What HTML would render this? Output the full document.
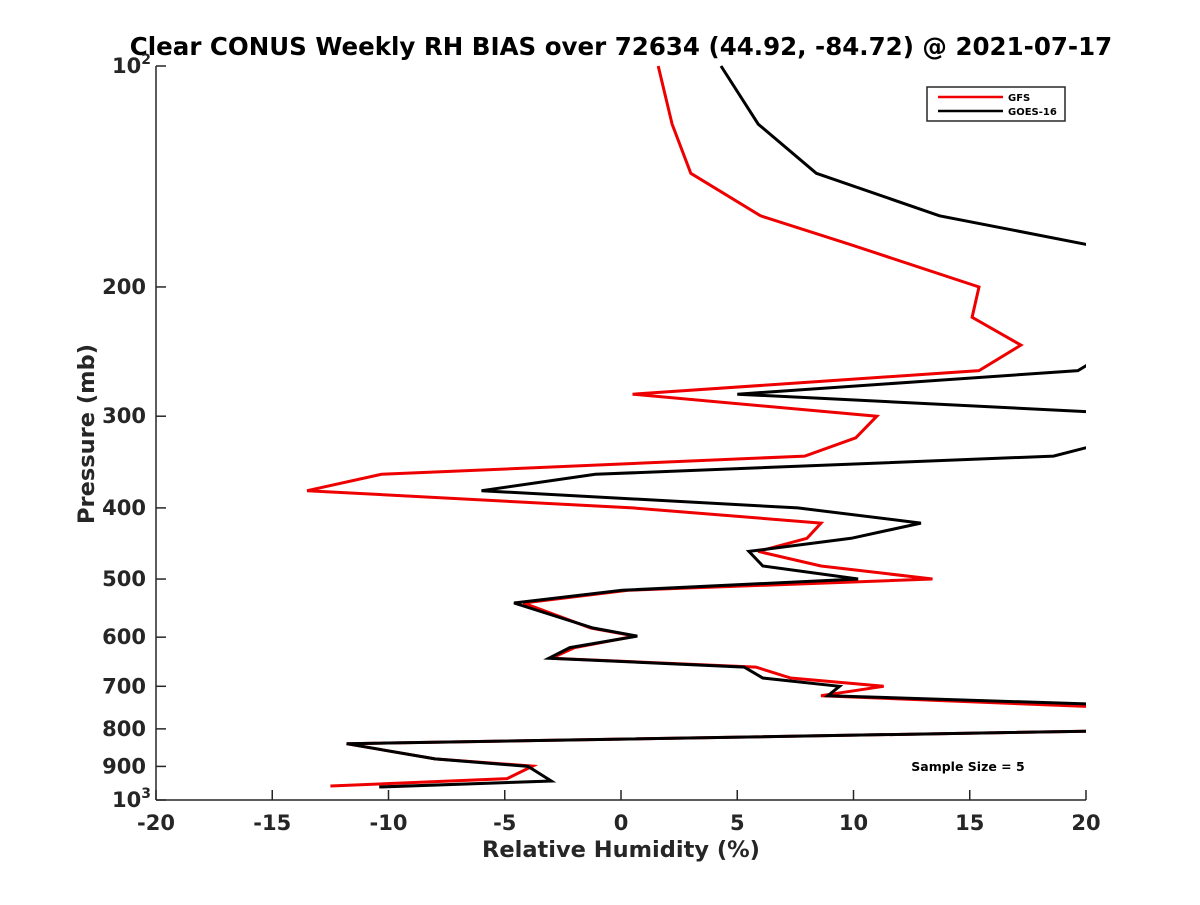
<!DOCTYPE html>
<html><head><meta charset="utf-8"><style>
body{margin:0;background:#fff;}
svg text{font-family:"DejaVu Sans","Liberation Sans",sans-serif;font-weight:bold;}
</style></head><body>
<svg id="chart" width="1200" height="900" viewBox="0 0 1200 900" xmlns="http://www.w3.org/2000/svg">
<rect width="1200" height="900" fill="#fff"/>
<text x="621" y="55" font-size="24.5" text-anchor="middle" fill="#000">Clear CONUS Weekly RH BIAS over 72634 (44.92, -84.72) @ 2021-07-17</text>
<g id="axes"></g>
<defs><clipPath id="plotclip"><rect x="156" y="60" width="930" height="745"/></clipPath></defs>
<g id="series" clip-path="url(#plotclip)"></g>
<text x="621" y="857" font-size="22.5" text-anchor="middle" fill="#262626">Relative Humidity (%)</text>
<text transform="translate(94,434) rotate(-90)" font-size="22.5" text-anchor="middle" fill="#262626">Pressure (mb)</text>
<g>
<rect x="927" y="87" width="138" height="34" fill="#fff" stroke="#262626" stroke-width="1.5"/>
<line x1="938" y1="97" x2="1003" y2="97" stroke="#e00" stroke-width="2.5"/>
<text x="1008" y="101" font-size="10" fill="#000">GFS</text>
<line x1="938" y1="111" x2="1003" y2="111" stroke="#000" stroke-width="2.5"/>
<text x="1008" y="115" font-size="10" fill="#000">GOES-16</text>
</g>
<text x="968" y="771" font-size="12.5" text-anchor="middle" fill="#000">Sample Size = 5</text>
</svg>
<script>
const xTicks=[-20,-15,-10,-5,0,5,10,15,20];
const yTicks=[100,200,300,400,500,600,700,800,900,1000];
const yTickLabels=["10²","200","300","400","500","600","700","800","900","10³"];
const gfsPressure=[100,120,140,160,175,200,220,240,260,280,300,321,340,360,379,400,419.5,440,458.5,480,500,518,539,583,598,620,641,659,682,700,721,750,800,838,879,899,935,957];
const gfsValues=[1.6,2.2,3.0,6.0,9.85,15.4,15.1,17.2,15.4,0.5,11.0,10.1,7.9,-10.3,-13.5,0.5,8.6,8.0,5.9,8.6,13.4,0.3,-4.2,-1.3,0.6,-2.0,-3.0,5.8,7.3,11.3,8.6,22,26,-11.8,-8.0,-3.8,-4.9,-12.5];
const goesPressure=[100,120,140,160,180,215,245,260,280,300,322,340,360,379,400,419.5,440,458.5,480,500,518,539,583,598,620,641,659,682,700,721,750,800,838,879,900,942,960];
const goesValues=[4.3,5.9,8.4,13.7,22,30,21,19.65,5.0,24,21.5,18.6,-1.1,-6.0,7.6,12.9,9.9,5.5,6.1,10.2,0.05,-4.6,-1.2,0.7,-2.2,-3.1,5.3,6.1,9.4,8.9,26,26,-11.8,-8.0,-4.0,-3.0,-10.4];
const X0=156,X1=1086,Y0=66,Y1=800;
const xs=v=>X0+(v+20)/40*(X1-X0);
const ys=p=>Y0+(Math.log10(p)-2)*(Y1-Y0);
const NS="http://www.w3.org/2000/svg";
const ax=document.getElementById('axes');
function mk(tag,attrs,parent){const e=document.createElementNS(NS,tag);for(const k in attrs)e.setAttribute(k,attrs[k]);parent.appendChild(e);return e;}
const la=mk('line',{x1:X0,y1:Y0,x2:X0,y2:Y1,stroke:'#262626','stroke-width':1.5},ax);


const lb=mk('line',{x1:X0,y1:Y1,x2:X1,y2:Y1,stroke:'#262626','stroke-width':1.5},ax);


xTicks.forEach(v=>{
 const t=mk('line',{x1:xs(v),y1:Y1,x2:xs(v),y2:Y1-10,stroke:'#262626','stroke-width':1.5},ax);
 
 
 const l=mk('text',{x:xs(v),y:Y1+30,'font-size':21,'text-anchor':'middle',fill:'#262626'},ax);
 l.textContent=v;
 
 
});
yTicks.forEach((p,i)=>{
 const t=mk('line',{x1:X0,y1:ys(p),x2:X0+10,y2:ys(p),stroke:'#262626','stroke-width':1.5},ax);
 
 
 const l=mk('text',{x:146,y:ys(p)+7,'font-size':21,'text-anchor':'end',fill:'#262626'},ax);
 const lab=yTickLabels[i];
 if(lab.startsWith('10')&&lab.length===3){
  l.textContent='10';
  const s=mk('tspan',{dy:-9,'font-size':14},l);s.textContent=lab[2]==='²'?'2':'3';
  l.setAttribute('x',151);
 } else l.textContent=lab;
 
 
});
const sg=document.getElementById('series');
function draw(ps,vs,color,name){
 const d=ps.map((p,i)=>(i?'L':'M')+xs(vs[i]).toFixed(1)+','+ys(p).toFixed(1)).join(' ');
 const e=mk('path',{d:d,fill:'none',stroke:color,'stroke-width':3,'stroke-linejoin':'miter'},sg);
 
 
}
draw(gfsPressure,gfsValues,'#e00','gfs-line');
draw(goesPressure,goesValues,'#000','goes16-line');
</script>
</body></html>
